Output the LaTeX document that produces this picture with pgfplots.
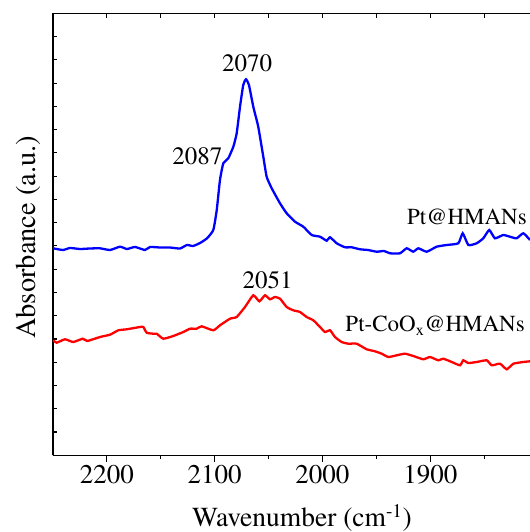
\documentclass[border=0pt]{standalone}
\usepackage{pgfplots}
\pgfplotsset{compat=1.18}
\usepackage{fontspec}
\setmainfont{texgyretermes}[Extension=.otf, UprightFont=*-regular, BoldFont=*-bold, ItalicFont=*-italic, BoldItalicFont=*-bolditalic]
\definecolor{cblue}{RGB}{0,0,255}
\definecolor{cred}{RGB}{255,0,0}
\begin{document}
\begin{tikzpicture}
\pgfplotsset{
  common/.style={
    at={(0,0)}, anchor=south west,
    scale only axis, width=477bp, height=442bp,
    xmin=1807.5, xmax=2250, ymin=0, ymax=4.42,
    x dir=reverse,
    axis line style={line width=1.3bp, black},
    every tick/.style={line width=1.1bp, black},
  }
}
% top ticks (inside) + left ticks (inside)
\begin{axis}[common,
  axis x line*=top, axis y line*=left,
  tick align=inside,
  major tick length=4.5bp,
  xtick={2250,2200,2150,2100,2050,2000,1950,1900,1850},
  ytick={0,0.2326,0.4653,0.6979,0.9305,1.1632,1.3958,1.6284,1.8611,2.0937,2.3263,2.5589,2.7916,3.0242,3.2568,3.4895,3.7221,3.9547,4.1874,4.42},
  xticklabels={}, yticklabels={},
]
\end{axis}
% bottom axis with labels and data
\begin{axis}[common,
  axis x line*=bottom, axis y line*=left,
  tick align=outside,
  xtick={2200,2100,2000,1900},
  minor xtick={2150,2050,1950,1850},
  major tick length=6.5bp, minor tick length=4bp,
  ytick=\empty,
  /pgf/number format/assume math mode=true,
  /pgf/number format/1000 sep={},
  xticklabel style={font=\fontsize{27bp}{30bp}\selectfont, yshift=0bp},
  xlabel={Wavenumber (cm\textsuperscript{-1})},
  ylabel={Absorbance (a.u.)},
  x label style={font=\fontsize{27.5bp}{30bp}\selectfont, at={(axis description cs:0.522,-0.1425)}, anchor=center},
  y label style={font=\fontsize{28.5bp}{30bp}\selectfont, at={(axis description cs:-0.0524,0.494)}, anchor=center},
  clip=false,
]
\addplot[cblue, line width=2.3bp, smooth, tension=0.3] coordinates {
(2250.0,2.070) (2240.7,2.053) (2234.2,2.073) (2225.0,2.063) (2215.7,2.068)
(2206.4,2.070) (2197.1,2.053) (2187.8,2.086) (2181.4,2.063) (2173.9,2.083)
(2164.7,2.053) (2160.0,2.083) (2150.7,2.078) (2141.5,2.078) (2132.2,2.068)
(2125.7,2.103) (2120.1,2.093) (2113.6,2.123) (2107.1,2.170) (2101.3,2.253)
(2098.1,2.453) (2095.1,2.753) (2092.0,2.920) (2087.4,2.970) (2082.7,3.086)
(2079.6,3.220) (2076.5,3.486) (2073.5,3.703) (2071.0,3.760) (2068.2,3.703)
(2064.2,3.486) (2059.6,3.286) (2054.9,2.986) (2051.8,2.786) (2047.1,2.670)
(2039.4,2.520) (2033.2,2.420) (2025.5,2.336) (2017.8,2.286) (2010.0,2.203)
(2002.3,2.186) (1996.1,2.146) (1993.0,2.180) (1986.8,2.120) (1979.1,2.080)
(1972.9,2.080) (1965.2,2.060) (1957.8,2.053) (1949.7,2.036) (1942.9,2.043)
(1937.4,2.020) (1928.1,2.020) (1921.9,2.070) (1915.8,2.036) (1911.1,2.070)
(1903.3,2.036) (1894.1,2.086) (1884.8,2.103) (1874.0,2.120) (1869.9,2.220)
(1864.7,2.103) (1857.0,2.120) (1850.8,2.170) (1845.3,2.253) (1840.0,2.170)
(1832.3,2.203) (1826.1,2.186) (1819.9,2.170) (1813.7,2.220) (1807.5,2.153)
};
\addplot[cred, line width=2.3bp, smooth, tension=0.3] coordinates {
(2249.7,1.150) (2246.6,1.126) (2238.9,1.160) (2231.2,1.133) (2222.4,1.166)
(2218.2,1.143) (2206.4,1.183) (2197.1,1.206) (2189.4,1.250) (2181.6,1.260)
(2169.3,1.283) (2166.2,1.283) (2163.1,1.226) (2157.0,1.216) (2153.8,1.216)
(2147.7,1.166) (2138.4,1.193) (2129.1,1.233) (2122.9,1.266) (2116.7,1.266)
(2112.1,1.290) (2101.3,1.250) (2095.1,1.300) (2085.8,1.366) (2079.6,1.383)
(2071.9,1.483) (2064.2,1.600) (2058.6,1.540) (2053.3,1.600) (2048.7,1.560)
(2044.1,1.583) (2039.4,1.566) (2033.2,1.483) (2027.1,1.450) (2020.9,1.433)
(2014.7,1.383) (2008.5,1.350) (2002.3,1.283) (1997.7,1.233) (1993.0,1.250)
(1988.4,1.183) (1982.2,1.133) (1976.1,1.116) (1968.3,1.116) (1959.0,1.060)
(1951.3,1.040) (1945.1,1.016) (1938.9,0.983) (1931.2,1.000) (1923.5,1.016)
(1915.8,0.993) (1906.5,0.960) (1900.3,0.983) (1892.6,0.950) (1888.0,0.966)
(1880.1,0.933) (1872.4,0.900) (1869.4,0.950) (1864.7,0.923) (1857.0,0.933)
(1847.7,0.950) (1843.0,0.900) (1835.3,0.916) (1829.1,0.860) (1822.9,0.916)
(1813.7,0.933) (1807.5,0.940)
};
\node[font=\fontsize{25bp}{28bp}\selectfont, anchor=center] at (axis cs:2070.0,3.92) {2070};
\node[font=\fontsize{25bp}{28bp}\selectfont, anchor=center] at (axis cs:2116.0,2.993) {2087};
\node[font=\fontsize{25bp}{28bp}\selectfont, anchor=center] at (axis cs:2051.0,1.753) {2051};
\node[font=\fontsize{23bp}{26bp}\selectfont, anchor=east, inner sep=0pt] at (axis cs:1810.3,2.386) {Pt@HMANs};
\node[font=\fontsize{23bp}{26bp}\selectfont, anchor=east, inner sep=0pt] at (axis cs:1812.2,1.293) {Pt-CoO\textsubscript{x}@HMANs};
\end{axis}
\pgfresetboundingbox
\path[use as bounding box] (-53bp,-76.7bp) rectangle (477bp,455.3bp);
\end{tikzpicture}
\end{document}
